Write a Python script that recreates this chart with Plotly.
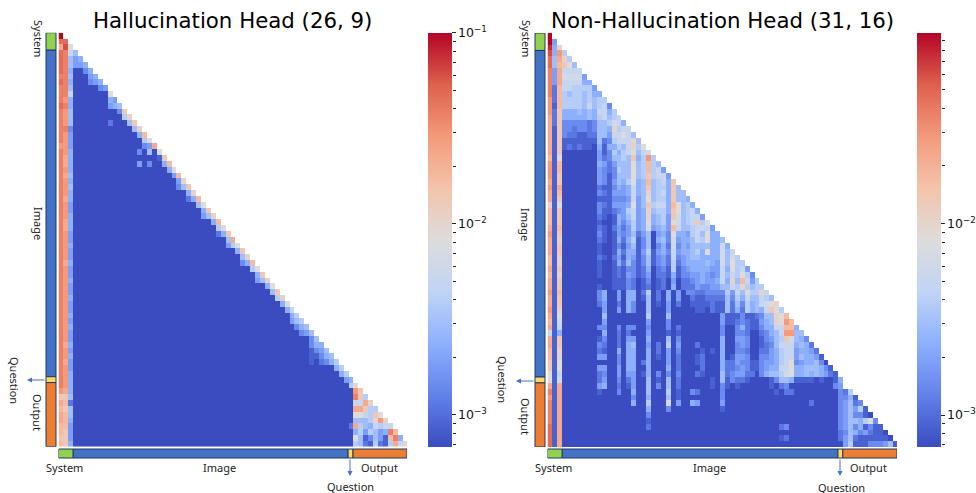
import plotly.graph_objects as go

CELLS = 71
LEVEL_CODES = "0123456789abcdefghijk"
LEVEL_LOG10 = [-3.167, -3.06, -2.95, -2.84, -2.73, -2.63, -2.52, -2.41, -2.30, -2.19, -2.08,
               -1.98, -1.87, -1.76, -1.65, -1.54, -1.43, -1.33, -1.22, -1.11, -1.0]

# Left head: first three columns and the cells running up to the diagonal, everything else is at the floor
LEFT_HEAD = ["k", "hh", "eia", "hg8", "hg6", "hg6", "hg5", "gg6", "hg5", "gg6", "gg8", "gf5", "hg5", "gf6", "gf6",
             "gf6", "gg3", "gf4", "gf4", "ff4", "gf5", "ge5", "ge5", "gf5", "ge6", "gf5", "gf6", "gf5", "ge5", "gf4",
             "gf4", "gf5", "ge5", "ge5", "gf4", "gf4", "gf5", "gf4", "gf4", "ge5", "gf4", "gf4", "gf5", "gf4", "gf4",
             "gf5", "gf4", "gf4", "gf5", "gf4", "gf5", "gf4", "gf4", "ge5", "gf4", "gf5", "ge4", "gf4", "gf5", "gf5",
             "gf5", "fe5", "cc6", "ed2", "dc6", "ed6", "ed5", "dd4", "dc4", "cc4", "dc5"]
LEFT_TAIL = ["", "", "", "6", "45", "445", "35", "45", "345", "34", "a", "54", "456", "3c", "7b", "20006c", "6b",
             "5d", "7a", "34e", "3060a", "01c", "403005d", "5a", "4d", "4b", "36c", "5b", "025d", "6a", "5c", "046b",
             "5d", "7a", "25c", "6e", "047a", "5c", "6b", "35d", "7a", "5c", "046b", "5a", "6c", "7b", "5a", "58",
             "57", "467", "356", "346", "36", "355", "1346", "11356", "102357", "57", "57", "45", "7a", "fc", "gc7",
             "88eb", "eec77", "aa87ca", "666 7bfb", "2e7658788", "5747645gd", "a6136 41dg5", "76217217e8b"]

RIGHT_ROWS = [
    "k", "k4", "j5b", "i5f7", "h6eb7", "h6dca6", "g4e8888", "g4e99994", "g4e888855", "g2d8877774",
    "g2d76776755", "f2d777767677", "f1d7777686783", "f2c55565658857", "e2c555556578678", "e2c3333323667985",
    "e1c33233236 65b788", "e1c3221122 66488a86", "e1c1111111 623788 8b6", "e1c1212110 5155768b7a",
    "e1c0000000 4137578a689", "d1a0000000 42366 76c57f7", "f1d0000000 5424666a67d76",
    "f1d0000000 43237 66a67d784", "f1c0000000 4313666a67c7884", "e1c0000000 431465 7a56d6785c",
    "f1e0000000 21135458 56c67 75c6", "e1d0000000 32144458 56b6785c66", "e1c0000000 11133348 46a6775c665",
    "b1a0000000 3214445a46c7885da675", "d1c0000000 31123 47845b6775ca6785",
    "d1c0000000 2101546845b5674c967884", "d1c0000000 1001535745 a5674a96 78c7a",
    "e1d0000000 2102424745 9456 4d86678884", "f1c0000000 3101434624 6045 3a55478 6a55",
    "e1b0000000 2101525713 6056 3945568 7a556", "e1c0000000 1001314613 6035 2935466 665595",
    "e1c0000000 1001525514 7145 3845567 5a55968", "d1b0000000 2102415413 6134 2834566 55559697",
    "d1b0000000 1001526313 6134 2724555 565496a77", "e1c0000000 1001213312 5023 1713455 55448 5a784",
    "d1b0000000 1001214312 4022 1513344 5434 86 87a73", "e1c0000000 0001113201 3012 0402234 54458 5b6d847",
    "e1c0000000 1001113201 2012 0502224 33446 687b7677", "f1d0000000 3500405502 7020504033 2233337486a77b8",
    "e1c0000000 3500405501 6020504002 1122226375866 876", "e1c0000000 2400205300 6010402001 11121162637 5689ab",
    "f1b0000000 0400405300 6000400000 1102116252756 58ca7", "e1a0000000 0600000000 7000600000 0000041113112 366bad",
    "d190000000 0400000000 4000300000 0000041123211 456bafd", "e180000000 3300303300 3000302000 0000030035211 3558 8dd5",
    "8150000000 0500202000 4000101000 0000030033200 2356 8ff66", "e1c0000000 1300204400 5000603000 0000050044300 13467c9653",
    "e1c0000000 3200205600 4020704000 2000050034300 12368885652", "d1b0000000 2100505500 5020403000 0101050033200 2245788455 42",
    "d1b0000000 4400305500 5010402000 1200050144300 3345788465541", "c1a0000000 0000305502 5000402000 1200052243311 34457 8a3455 630",
    "c1a0000000 4400405500 5000502000 0200052234311 34558 8a556665 31", "a180000000 2300404401 5030303000 2100062344220 35667 9a556565 421",
    "a190000000 2400302400 6010602000 0001061322100 001366 5 1111010015", "e1e0000000 4500201400 6030602000 0001031010000 0010230 0000000034",
    "g1e0000000 1000300500 6000701003 2000030000 0000001022 000000000 327", "f1e0000000 0000000300 5000601000 0000030000 0000000000 0000000003 351",
    "g1e0000000 0000000500 7000904005 4000040000 0000000000 0002000003 4623", "g1e0000000 0000000000 5000300000 0000010000 0000000000 0000000003 46471",
    "g1e0000000 0000000000 3000000000 0000000000 0000000000 0000000003 463310", "g1e0000000 0000000000 1000000000 0000000000 0000000000 0000000003 466 57a3",
    "h1e0000000 0000000000 2000000000 0000000000 0000000230 0000000003 46351311", "h1e0000000 0000000000 0000000000 0000000000 0000000000 0000000002 365342110",
    "h1e0000000 0000000000 0000000000 0000000000 0000000120 0000000002 4621111110", "h1e0000000 0000000000 0000000000 0000000000 0000000000 0000000000 47111333461",
]

SEGMENT_NAMES = ["System", "Image", "Question", "Output"]
SEGMENT_STARTS = [0, 3, 59, 60]
SEGMENT_ENDS = [3, 59, 60, 71]
SEGMENT_COLORS = ["#92d050", "#4472c4", "#ffd966", "#ed7d31"]

COLOR_STOPS = [[0.0, "rgb(58,76,192)"], [0.125, "rgb(98,130,234)"], [0.25, "rgb(141,176,254)"],
               [0.375, "rgb(192,212,245)"], [0.5, "rgb(221,220,220)"], [0.625, "rgb(244,195,171)"],
               [0.75, "rgb(244,154,123)"], [0.875, "rgb(222,97,77)"], [1.0, "rgb(180,4,38)"]]
MAJOR_LOG10 = [-3, -2, -1]
MAJOR_LABELS = ["10<sup>−3</sup>", "10<sup>−2</sup>", "10<sup>−1</sup>"]
MINOR_TICKS = [7e-4, 8e-4, 9e-4, 2e-3, 3e-3, 4e-3, 5e-3, 6e-3, 7e-3, 8e-3, 9e-3,
               2e-2, 3e-2, 4e-2, 5e-2, 6e-2, 7e-2, 8e-2, 9e-2]
W, H = 976, 493


def decode(code):
    row = [LEVEL_LOG10[LEVEL_CODES.index(c)] for c in code.replace(" ", "")]
    return row


def matrix(rows):
    out = []
    for r in range(CELLS):
        vals = rows[r][:r + 1] + [None] * max(0, r + 1 - len(rows[r]))
        out.append(vals + [None] * (CELLS - r - 1))
    return out


left_rows = []
for r in range(CELLS):
    head = decode(LEFT_HEAD[r])
    tail = decode(LEFT_TAIL[r])
    fill = [LEVEL_LOG10[0]] * max(0, r + 1 - len(head) - len(tail))
    left_rows.append(head + fill + tail)
right_rows = [decode(s) for s in RIGHT_ROWS]

fig = go.Figure()
panels = [
    dict(rows=left_rows, x0=58.5, x1=407, y0=32.7, y1=446.7, zmax=-1.0, cb0=428, cb1=452, title="Hallucination Head (26, 9)", tx=232.5,
         xa="x", ya="y", vbar=(46, 56), hbar=(449, 458),
         labels=[(38, 38, "System", 90), (38, 223, "Image", 90), (38, 412, "Output", 90), (15, 380, "Question", 90),
                 (64, 467, "System", 0), (219, 467, "Image", 0), (379, 467, "Output", 0), (350, 486, "Question", 0)],
         arrows=[(46, 380, 27, 380), (350, 458, 350, 476)]),
    dict(rows=right_rows, x0=547.5, x1=897, y0=33, y1=447, zmax=-1.005, cb0=917, cb1=941, title="Non-Hallucination Head (31, 16)", tx=722,
         xa="x2", ya="y2", vbar=(535, 545), hbar=(449, 458),
         labels=[(526, 38, "System", 90), (526, 224, "Image", 90), (526, 416, "Output", 90), (503, 379, "Question", 90),
                 (553, 467, "System", 0), (709, 467, "Image", 0), (868, 467, "Output", 0), (841, 487, "Question", 0)],
         arrows=[(535, 381, 516, 381), (840, 458, 840, 476)]),
]

layout = dict(width=W, height=H, margin=dict(l=0, r=0, t=0, b=0, autoexpand=False), paper_bgcolor="white", plot_bgcolor="white",
              showlegend=False, shapes=[], annotations=[])

for i, p in enumerate(panels):
    suf = "" if i == 0 else "2"
    minor_suf = str(3 + i)
    fig.add_trace(go.Heatmap(
        z=matrix(p["rows"]), xaxis=p["xa"], yaxis=p["ya"], colorscale=COLOR_STOPS,
        zmin=LEVEL_LOG10[0], zmax=p["zmax"], hoverongaps=False,
        colorbar=dict(x=p["cb0"] / W, xanchor="left", xpad=0, ypad=0, y=1 - p["y0"] / H, yanchor="top",
                      len=(p["y1"] - p["y0"]) / H, lenmode="fraction", thickness=p["cb1"] - p["cb0"], thicknessmode="pixels",
                      outlinewidth=0, ticks="outside", ticklen=4, tickwidth=1, tickcolor="#222",
                      tickvals=[v for v in MAJOR_LOG10 if v <= p["zmax"]],
                      ticktext=[t for v, t in zip(MAJOR_LOG10, MAJOR_LABELS) if v <= p["zmax"]],
                      tickfont=dict(family="DejaVu Sans", size=12.5, color="#111")),
    ))
    layout["xaxis" + suf] = dict(domain=[p["x0"] / W, p["x1"] / W], range=[-0.5, CELLS - 0.5], visible=False, anchor="y" + suf)
    layout["yaxis" + suf] = dict(domain=[1 - p["y1"] / H, 1 - p["y0"] / H], range=[CELLS - 0.5, -0.5], visible=False, anchor="x" + suf)

    # minor ticks of the logarithmic colour bar
    fig.add_trace(go.Scatter(x=[None], y=[None], xaxis="x" + minor_suf, yaxis="y" + minor_suf, hoverinfo="skip"))
    layout["xaxis" + minor_suf] = dict(domain=[p["cb0"] / W, p["cb1"] / W], visible=False, anchor="y" + minor_suf)
    layout["yaxis" + minor_suf] = dict(domain=[1 - p["y1"] / H, 1 - p["y0"] / H], type="log", range=[LEVEL_LOG10[0], p["zmax"]],
                                       tickmode="array", tickvals=[t for t in MINOR_TICKS], showticklabels=False,
                                       ticks="outside", ticklen=2.5, tickwidth=1, tickcolor="#222", showgrid=False,
                                       zeroline=False, showline=False, anchor="free", position=p["cb1"] / W, side="right")

    # segment bars
    for start, end, color in zip(SEGMENT_STARTS, SEGMENT_ENDS, SEGMENT_COLORS):
        layout["shapes"].append(dict(type="rect", xref="paper", yref=p["ya"], x0=p["vbar"][0] / W, x1=p["vbar"][1] / W,
                                     y0=start - 0.5, y1=end - 0.5, fillcolor=color, line=dict(color="#1f3864", width=1)))
        layout["shapes"].append(dict(type="rect", xref=p["xa"], yref="paper", x0=start - 0.5, x1=end - 0.5,
                                     y0=1 - p["hbar"][1] / H, y1=1 - p["hbar"][0] / H, fillcolor=color, line=dict(color="#1f3864", width=1)))

    layout["annotations"].append(dict(xref="paper", yref="paper", x=p["tx"] / W, y=1 - 20 / H, text=p["title"], showarrow=False,
                                      xanchor="center", yanchor="middle", font=dict(family="DejaVu Sans", size=21.3, color="black")))
    for x, y, text, angle in p["labels"]:
        layout["annotations"].append(dict(xref="paper", yref="paper", x=x / W, y=1 - y / H, text=text, showarrow=False, textangle=angle,
                                          xanchor="center", yanchor="middle", font=dict(family="Noto Sans", size=11, color="#222")))
    for x0, y0, x1, y1 in p["arrows"]:
        layout["annotations"].append(dict(xref="paper", yref="paper", axref="pixel", ayref="pixel", x=x1 / W, y=1 - y1 / H,
                                          ax=x0 - x1, ay=y0 - y1, text="", showarrow=True, arrowhead=2, arrowsize=1,
                                          arrowwidth=1, arrowcolor="#4472c4"))

fig.update_layout(**layout)
fig.write_html("out.html", config={"displayModeBar": False},
               post_script="document.body.style.margin='0';document.documentElement.style.overflow='hidden';")
